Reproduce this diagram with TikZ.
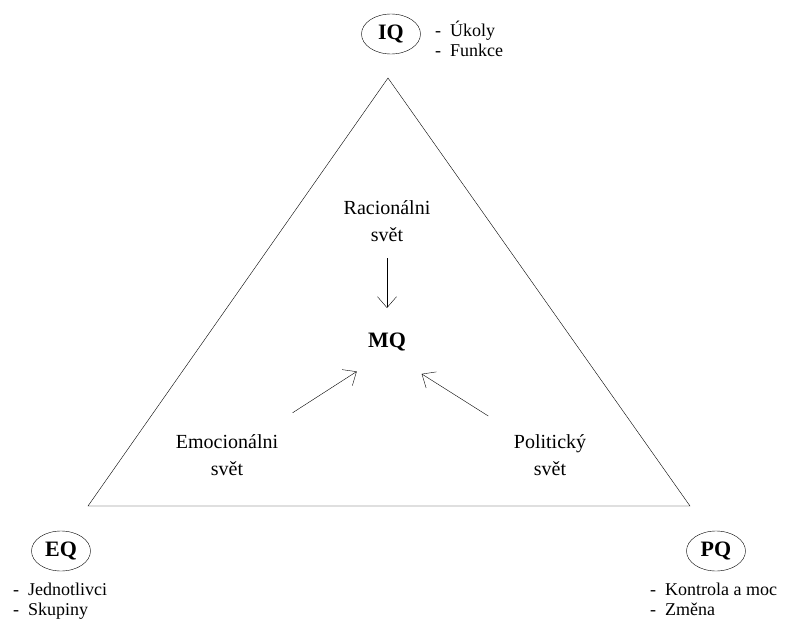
\documentclass[tikz,border=0pt]{standalone}
\usepackage{fontspec}
\setmainfont{Liberation Serif}
\usetikzlibrary{arrows.meta,shapes.geometric}

\tikzset{
  quot/.style={ellipse,draw,minimum width=59pt,minimum height=40pt,inner sep=0pt,font=\fontsize{22}{24}\selectfont\bfseries},
  world/.style={align=center,font=\fontsize{20}{27}\selectfont},
  items/.style={align=left,anchor=north west,inner sep=0pt,font=\fontsize{18}{20}\selectfont},
  flow/.style={-{Straight Barb[length=11pt,width=19pt]},thin}
}

\begin{document}
\begin{tikzpicture}[x=1pt,y=-1pt]
    \useasboundingbox (0,0) rectangle (785,621);

    % triangle corners
    \coordinate (top) at (388,78);
    \coordinate (left) at (88,506);
    \coordinate (right) at (690,506);
    \draw (top) -- (left) -- (right) -- cycle;

    % the three quotients
    \node[quot] (IQ) at (391,34) {IQ};
    \node[quot] (EQ) at (61,551) {EQ};
    \node[quot] (PQ) at (716,551) {PQ};
    \node[items] (IQlist) at (435,21) {-\ \ Úkoly\\-\ \ Funkce};
    \node[items] (EQlist) at (13,583) {-\ \ Jednotlivci\\-\ \ Skupiny};
    \node[items] (PQlist) at (650,583) {-\ \ Kontrola a moc\\-\ \ Změna};

    % inner labels
    \node[world] (rac) at (387,221) {Racionálni\\svět};
    \node[font=\fontsize{22}{24}\selectfont\bfseries] (MQ) at (387,342) {MQ};
    \node[world] (emo) at (227,455) {Emocionálni\\svět};
    \node[world] (pol) at (550,455) {Politický\\svět};

    \draw[flow,shorten <=37pt,shorten >=34pt] (rac.center) -- (MQ.center);
    \draw[flow,shorten <=78pt,shorten >=36pt] (emo.center) -- ([yshift=-10pt]MQ.center);
    \draw[flow,shorten <=73pt,shorten >=41pt] (pol.center) -- ([yshift=-10pt]MQ.center);
\end{tikzpicture}
\end{document}
